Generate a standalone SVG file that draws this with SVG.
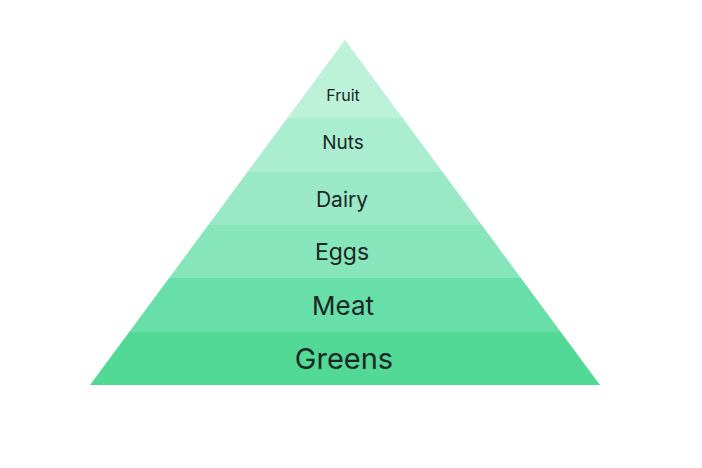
<svg xmlns="http://www.w3.org/2000/svg" width="702" height="468" viewBox="0 0 702 468">
<style>
.lbl{font-family:Inter,"Noto Sans","Liberation Sans",sans-serif;fill:#1b2626;text-anchor:middle}
</style>
<rect width="702" height="468" fill="#ffffff"/>
<g id="greens"><polygon points="129.2,332 560.8,332 600,385 90,385" fill="#52d996"/><text class="lbl" x="344" y="369" font-size="29">Greens</text></g>
<g id="meat"><polygon points="169.1,278 520.9,278 560.8,332 129.2,332" fill="#68dea8"/><text class="lbl" x="343" y="315" font-size="26">Meat</text></g>
<g id="eggs"><polygon points="208.3,225 481.7,225 520.9,278 169.1,278" fill="#87e5bb"/><text class="lbl" x="342" y="260" font-size="23">Eggs</text></g>
<g id="dairy"><polygon points="247.4,172 442.6,172 481.7,225 208.3,225" fill="#99e9c6"/><text class="lbl" x="342" y="207" font-size="21">Dairy</text></g>
<g id="nuts"><polygon points="287.4,118 402.6,118 442.6,172 247.4,172" fill="#abedd0"/><text class="lbl" x="343" y="149" font-size="19">Nuts</text></g>
<g id="fruit"><polygon points="345,40 402.6,118 287.4,118" fill="#bcf1da"/><text class="lbl" x="343" y="101" font-size="16">Fruit</text></g>
</svg>
